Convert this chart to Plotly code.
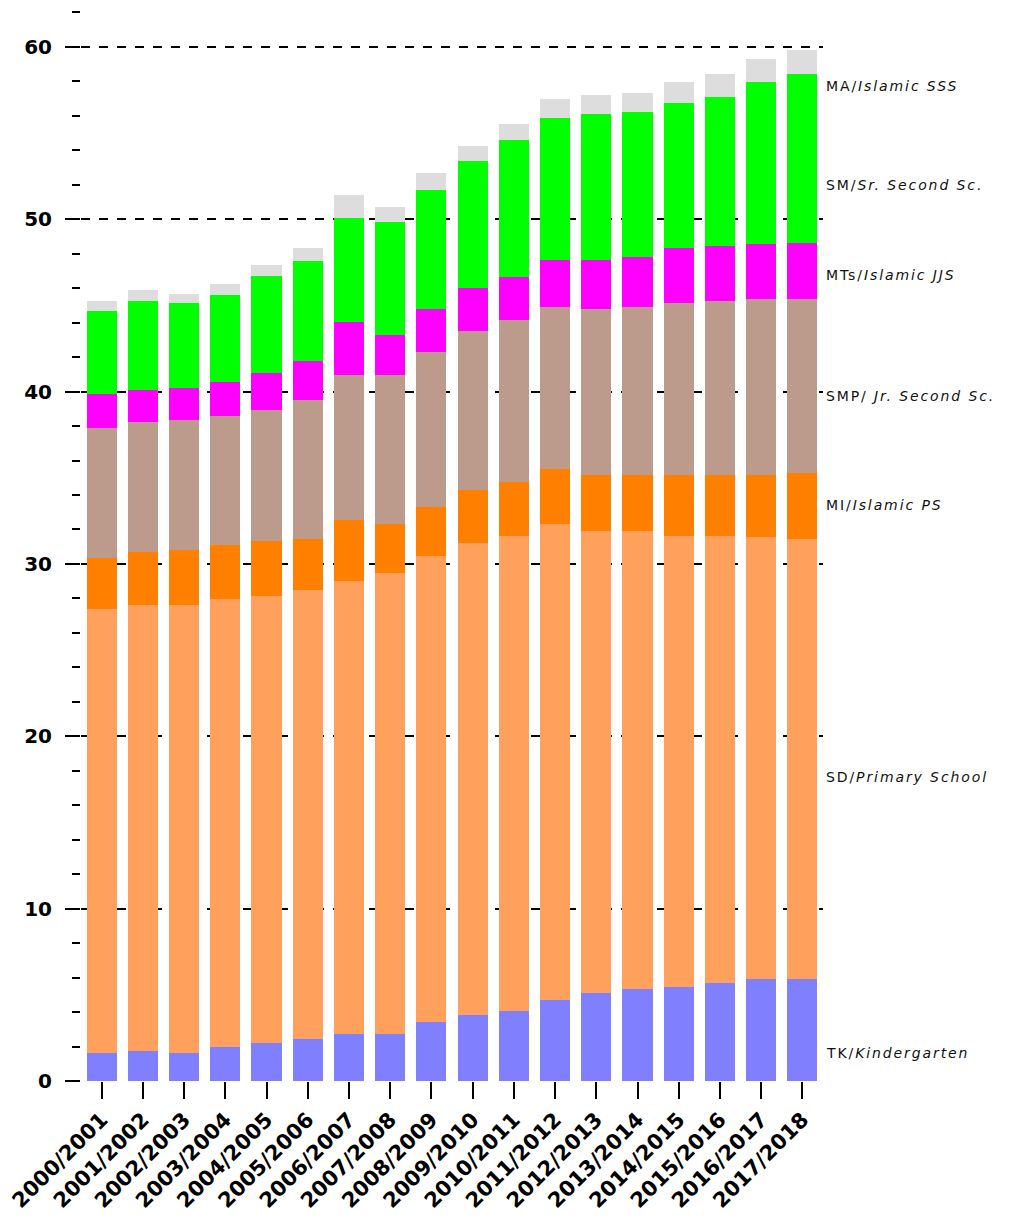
import plotly.graph_objects as go

years = ["2000/2001", "2001/2002", "2002/2003", "2003/2004", "2004/2005", "2005/2006",
         "2006/2007", "2007/2008", "2008/2009", "2009/2010", "2010/2011", "2011/2012",
         "2012/2013", "2013/2014", "2014/2015", "2015/2016", "2016/2017", "2017/2018"]

tk = [1.64, 1.76, 1.64, 1.97, 2.19, 2.42, 2.73, 2.73, 3.40, 3.81, 4.04, 4.70,
      5.13, 5.36, 5.48, 5.69, 5.90, 5.90]
sd = [25.74, 25.85, 25.97, 25.99, 25.96, 26.06, 26.31, 26.74, 27.05, 27.43, 27.61, 27.63,
      26.76, 26.53, 26.17, 25.96, 25.64, 25.54]
mi = [2.97, 3.07, 3.19, 3.15, 3.19, 2.96, 3.52, 2.86, 2.83, 3.06, 3.08, 3.17,
      3.28, 3.28, 3.52, 3.52, 3.63, 3.83]
smp = [7.55, 7.55, 7.55, 7.45, 7.57, 8.10, 8.42, 8.65, 8.99, 9.19, 9.40, 9.42,
       9.63, 9.75, 9.97, 10.06, 10.18, 10.08]
mts = [1.99, 1.87, 1.85, 1.99, 2.18, 2.21, 3.07, 2.32, 2.51, 2.53, 2.53, 2.73,
       2.85, 2.87, 3.17, 3.20, 3.19, 3.29]
sm = [4.80, 5.13, 4.93, 5.03, 5.59, 5.80, 6.02, 6.56, 6.91, 7.34, 7.92, 8.22,
      8.44, 8.43, 8.43, 8.66, 9.42, 9.77]
ma = [0.54, 0.68, 0.56, 0.66, 0.66, 0.76, 1.33, 0.87, 1.01, 0.87, 0.96, 1.09,
      1.10, 1.10, 1.20, 1.32, 1.32, 1.41]

series_names = ["TK", "SD", "MI", "SMP", "MTs", "SM", "MA"]
series_values = [tk, sd, mi, smp, mts, sm, ma]
series_colors = ["#8080ff", "#ffa05c", "#ff8000", "#bc9a8c", "#ff00ff", "#00ff00", "#dddddd"]

label_prefix = ["TK/", "SD/", "MI/", "SMP/ ", "MTs/", "SM/", "MA/"]
label_italic = ["Kindergarten", "Primary School", "Islamic PS", "Jr. Second Sc.",
                "Islamic JJS", "Sr. Second Sc.", "Islamic SSS"]
label_y = [1.63, 17.64, 33.43, 39.76, 46.78, 52.0, 57.75]

fig = go.Figure()
for name, vals, col in zip(series_names, series_values, series_colors):
    fig.add_trace(go.Bar(x=years, y=vals, name=name, marker=dict(color=col, line=dict(width=0))))

for pre, it, yy in zip(label_prefix, label_italic, label_y):
    fig.add_annotation(
        xref="paper", yref="y", x=1.0, y=yy, xanchor="left", yanchor="middle",
        xshift=1, showarrow=False,
        text='<span style="letter-spacing:1.9px">' + pre + "<i>" + it + "</i></span>",
        font=dict(family="DejaVu Sans", size=14, color="#111111"),
    )

fig.update_layout(
    barmode="stack",
    bargap=0.27,
    width=1011, height=1222,
    margin=dict(l=73, r=196, t=1, b=149),
    plot_bgcolor="white", paper_bgcolor="white",
    showlegend=False,
    font=dict(family="DejaVu Sans", color="black"),
)
fig.update_xaxes(
    range=[-0.5, 17.5], showgrid=False, showline=False, zeroline=False,
    ticks="outside", ticklen=17, tickwidth=2, tickcolor="black",
    tickangle=-45,
    tickfont=dict(family="DejaVu Sans", size=21, color="black", weight="bold"),
)
fig.update_yaxes(
    range=[0, 62.2], tickvals=[0, 10, 20, 30, 40, 50, 60],
    showgrid=True, gridcolor="black", gridwidth=1.5, griddash="dash",
    showline=False, zeroline=False,
    ticks="outside", ticklen=15, tickwidth=2, tickcolor="black",
    ticklabelstandoff=9,
    tickfont=dict(family="DejaVu Sans", size=20, color="black", weight="bold"),
    minor=dict(dtick=2, tick0=0, ticks="outside", ticklen=8, tickwidth=2,
               tickcolor="black", showgrid=False),
)

fig.write_html("out.html")
